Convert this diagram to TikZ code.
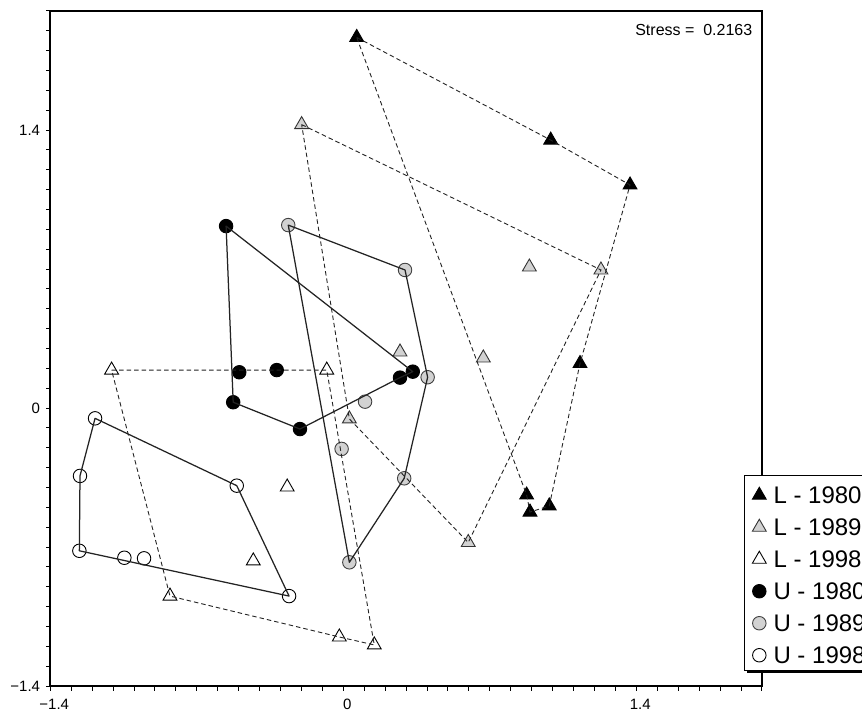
\documentclass[tikz,border=0pt]{standalone}
\usepackage{fontspec}
\setmainfont{Liberation Sans}
\usepackage{xcolor}
\usepackage{tikz}
\usetikzlibrary{positioning,shapes.geometric,shadows}

\definecolor{markergrey}{RGB}{210,210,210}
\definecolor{lineink}{RGB}{35,35,35}

\begin{document}
\begin{tikzpicture}[x=209.3pt, y=198.6pt,
    blacktri/.style={regular polygon, regular polygon sides=3, draw=black, fill=black, line width=0.9pt, minimum size=16pt, inner sep=0pt},
    greytri/.style={blacktri, draw=black!80, fill=markergrey},
    whitetri/.style={blacktri, fill=white},
    blackdot/.style={circle, draw=black, fill=black, line width=0.9pt, minimum size=13.5pt, inner sep=0pt},
    greydot/.style={blackdot, draw=black!75, fill=markergrey},
    whitedot/.style={blackdot, fill=white},
    hull/.style={draw=lineink, line width=1.25pt, line join=round},
    hulldash/.style={draw=lineink, line width=0.9pt, dash pattern=on 4.5pt off 3pt},
    ticklabel/.style={inner sep=0pt, font=\fontsize{15pt}{18pt}\selectfont},
    legendtext/.style={inner sep=0pt, anchor=west, font=\fontsize{24pt}{28pt}\selectfont}]
    \useasboundingbox (-1.6402,-1.5257) rectangle (2.4783,2.0544);
    \clip (-1.6402,-1.5257) rectangle (2.4783,2.0544);

    % axes
    \foreach \k in {-14,...,20} {
        \draw [line width=0.9pt] (-1.4,\k/10) -- ++(-4.5pt,0);
        \draw [line width=0.9pt] (\k/10,-1.4) -- ++(0,-4.5pt);
    }
    \draw [line width=1.8pt] (-1.4,-1.4) rectangle (2,2);
    \node (ylab14) [ticklabel, anchor=east] at ([xshift=-10pt]-1.4,1.4) {1.4};
    \node (ylab0) [ticklabel, anchor=east] at ([xshift=-10pt]-1.4,0) {0};
    \node (ylabm14) [ticklabel, anchor=east] at ([xshift=-10pt]-1.4,-1.4) {−1.4};
    \node (xlabm14) [ticklabel, anchor=base] at ([xshift=4pt, yshift=-23pt]-1.4,-1.4) {−1.4};
    \node (xlab0) [ticklabel, anchor=base] at ([xshift=4pt, yshift=-23pt]0,-1.4) {0};
    \node (xlab14) [ticklabel, anchor=base] at ([xshift=4pt, yshift=-23pt]1.4,-1.4) {1.4};
    \node (stress) [anchor=base east, inner sep=0pt, font=\fontsize{16pt}{19pt}\selectfont] at (1.955,1.875) {Stress =\ \ 0.2163};

    % L - 1980
    \node (l80a) [blacktri] at (0.064,1.866) {};
    \node (l80b) [blacktri] at (0.991,1.349) {};
    \node (l80c) [blacktri] at (1.370,1.123) {};
    \node (l80d) [blacktri] at (1.131,0.224) {};
    \node (l80e) [blacktri] at (0.876,-0.438) {};
    \node (l80f) [blacktri] at (0.892,-0.524) {};
    \node (l80g) [blacktri] at (0.984,-0.493) {};
    % L - 1989
    \node (l89a) [greytri] at (-0.199,1.427) {};
    \node (l89b) [greytri] at (0.889,0.710) {};
    \node (l89c) [greytri] at (1.231,0.695) {};
    \node (l89d) [greytri] at (0.669,0.252) {};
    \node (l89e) [greytri] at (0.271,0.282) {};
    \node (l89f) [greytri] at (0.029,-0.055) {};
    \node (l89g) [greytri] at (0.597,-0.677) {};
    % L - 1998
    \node (l98a) [whitetri] at (-1.107,0.191) {};
    \node (l98b) [whitetri] at (-0.079,0.191) {};
    \node (l98c) [whitetri] at (-0.268,-0.398) {};
    \node (l98d) [whitetri] at (-0.430,-0.770) {};
    \node (l98e) [whitetri] at (-0.828,-0.947) {};
    \node (l98f) [whitetri] at (-0.019,-1.153) {};
    \node (l98g) [whitetri] at (0.148,-1.193) {};
    % U - 1980
    \node (u80a) [blackdot] at (-0.560,0.916) {};
    \node (u80b) [blackdot] at (-0.497,0.180) {};
    \node (u80c) [blackdot] at (-0.318,0.191) {};
    \node (u80d) [blackdot] at (-0.526,0.029) {};
    \node (u80e) [blackdot] at (-0.207,-0.106) {};
    \node (u80f) [blackdot] at (0.271,0.153) {};
    \node (u80g) [blackdot] at (0.332,0.183) {};
    % U - 1989
    \node (u89a) [greydot] at (-0.263,0.921) {};
    \node (u89b) [greydot] at (0.295,0.695) {};
    \node (u89c) [greydot] at (0.403,0.155) {};
    \node (u89d) [greydot] at (0.104,0.032) {};
    \node (u89e) [greydot] at (-0.008,-0.206) {};
    \node (u89f) [greydot] at (0.291,-0.354) {};
    \node (u89g) [greydot] at (0.029,-0.777) {};
    % U - 1998
    \node (u98a) [whitedot] at (-1.186,-0.052) {};
    \node (u98b) [whitedot] at (-1.258,-0.342) {};
    \node (u98c) [whitedot] at (-1.261,-0.719) {};
    \node (u98d) [whitedot] at (-1.046,-0.754) {};
    \node (u98e) [whitedot] at (-0.952,-0.757) {};
    \node (u98f) [whitedot] at (-0.509,-0.391) {};
    \node (u98g) [whitedot] at (-0.259,-0.947) {};

    % hulls
    \draw [hulldash] (l80a.center) -- (l80b.center) -- (l80c.center) -- (l80d.center) -- (l80g.center) -- (l80f.center) -- (l80e.center) -- cycle;
    \draw [hulldash] (l89a.center) -- (l89c.center) -- (l89g.center) -- (l89f.center) -- cycle;
    \draw [hulldash] (l98a.center) -- (l98b.center) -- (l98g.center) -- (l98f.center) -- (l98e.center) -- cycle;
    \draw [hull] (u80a.center) -- (u80g.center) -- (u80f.center) -- (u80e.center) -- (u80d.center) -- cycle;
    \draw [hull] (u89a.center) -- (u89b.center) -- (u89c.center) -- (u89f.center) -- (u89g.center) -- cycle;
    \draw [hull] (u98a.center) -- (u98f.center) -- (u98g.center) -- (u98c.center) -- (u98b.center) -- cycle;

    % legend
    \node (legenda) [draw=black, fill=white, line width=0.9pt, minimum width=140pt, minimum height=195pt, anchor=north west, inner sep=0pt, drop shadow={shadow xshift=2.5pt, shadow yshift=-2.5pt, fill=black, opacity=1}] at (1.916,-0.336) {};
    \node (keyl80) [blacktri] at ([xshift=15pt, yshift=-20.5pt]legenda.north west) {};
    \node (keyl89) [greytri] at ([yshift=-32pt]keyl80.center) {};
    \node (keyl98) [whitetri] at ([yshift=-32pt]keyl89.center) {};
    \node (keyu80) [blackdot] at ([yshift=-32pt]keyl98.center) {};
    \node (keyu89) [greydot] at ([yshift=-32pt]keyu80.center) {};
    \node (keyu98) [whitedot] at ([yshift=-32pt]keyu89.center) {};
    \node (txtl80) [legendtext, right=14pt of keyl80.center] {L - 1980};
    \node (txtl89) [legendtext, right=14pt of keyl89.center] {L - 1989};
    \node (txtl98) [legendtext, right=14pt of keyl98.center] {L - 1998};
    \node (txtu80) [legendtext, right=14pt of keyu80.center] {U - 1980};
    \node (txtu89) [legendtext, right=14pt of keyu89.center] {U - 1989};
    \node (txtu98) [legendtext, right=14pt of keyu98.center] {U - 1998};
\end{tikzpicture}
\end{document}
